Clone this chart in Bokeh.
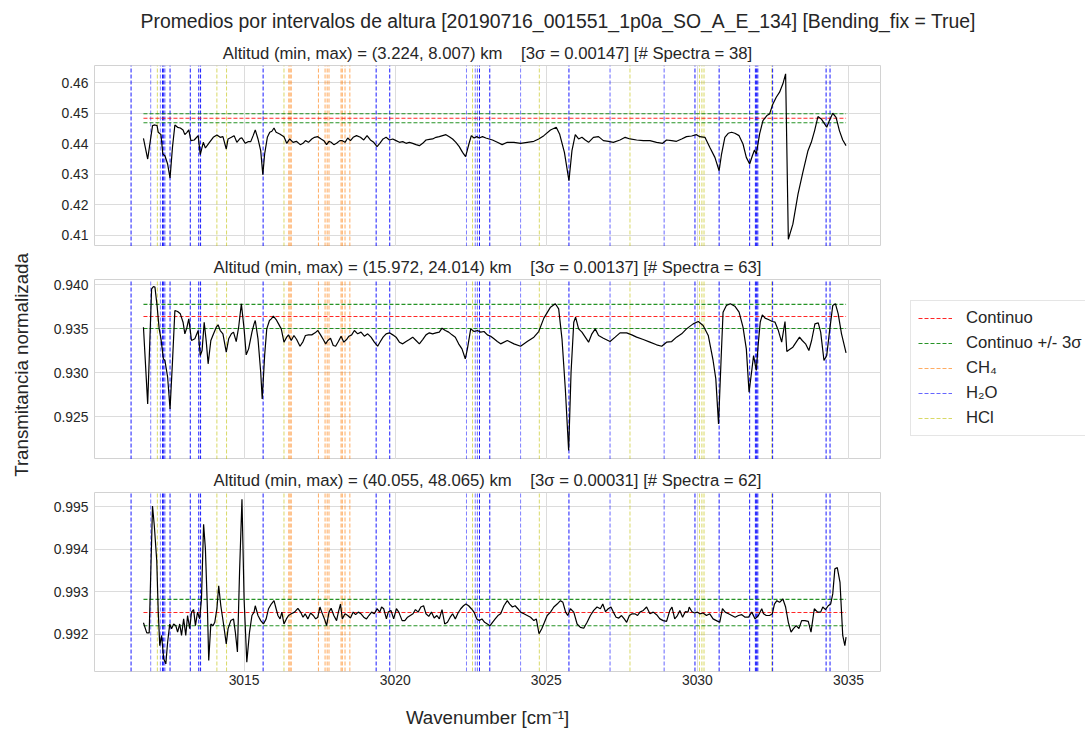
from bokeh.plotting import figure
from bokeh.models import (FixedTicker, Title, Legend, LegendItem,
                          PrintfTickFormatter, Range1d, ColumnDataSource)
from bokeh.layouts import column, row
from bokeh.embed import file_html
from bokeh.resources import INLINE

FONT = "Liberation Sans"
INK = "#262626"
SP4 = "\u00a0\u00a0\u00a0\u00a0"

main_title = "Promedios por intervalos de altura [20190716_001551_1p0a_SO_A_E_134] [Bending_fix = True]"
subtitles = [
    "Altitud (min, max) = (3.224, 8.007) km" + SP4 + "[3\u03c3 = 0.00147] [# Spectra = 38]",
    "Altitud (min, max) = (15.972, 24.014) km" + SP4 + "[3\u03c3 = 0.00137] [# Spectra = 63]",
    "Altitud (min, max) = (40.055, 48.065) km" + SP4 + "[3\u03c3 = 0.00031] [# Spectra = 62]",
]
x_label = "Wavenumber [cm\u207b\u00b9]"
y_label = "Transmitancia normalizada"
legend_labels = ["Continuo", "Continuo +/- 3\u03c3", "CH\u2084", "H\u2082O", "HCl"]

x_ticks = [3015, 3020, 3025, 3030, 3035]
x_limits = (3010.05, 3036.06)
y_ticks = [
    [0.41, 0.42, 0.43, 0.44, 0.45, 0.46],
    [0.925, 0.930, 0.935, 0.940],
    [0.992, 0.993, 0.994, 0.995],
]
y_formats = ["%.2f", "%.3f", "%.3f"]
y_limits = [(0.4063, 0.4657), (0.92016, 0.94061), (0.99112, 0.99534)]

continuo = [0.44838, 0.93641, 0.99251]
tres_sigma = [0.00147, 0.00137, 0.00031]

# spectral line positions (cm-1)
ch4_lines = [3016.48, 3016.52, 3016.56, 3017.46, 3017.68, 3017.75, 3017.81,
             3018.21, 3018.25, 3018.34, 3018.50]
hcl_lines = [3012.13, 3014.10, 3014.42, 3016.32, 3022.56, 3024.77, 3027.77,
             3030.07, 3030.15, 3030.22, 3032.46]
h2o_lines = [3011.26, 3011.91, 3012.23, 3012.30, 3012.34, 3012.38, 3012.55,
             3013.22, 3013.50, 3013.56, 3015.63, 3019.37, 3019.82, 3022.36,
             3022.65, 3022.72, 3022.79, 3023.13, 3024.15, 3025.75, 3027.11,
             3028.90, 3029.92, 3030.72, 3031.73, 3031.92, 3031.96, 3032.00,
             3032.49, 3034.26, 3034.39]
h2o_strength = [0.9, 0.5, 0.5, 0.9, 0.9, 0.6, 0.9,
                0.9, 0.9, 0.9, 0.9, 0.9, 0.9, 0.5,
                0.5, 0.6, 0.9, 0.9, 0.5, 0.9, 0.6,
                0.6, 0.9, 0.9, 0.9, 0.9, 0.9, 0.9,
                0.9, 0.9, 0.9]

# averaged spectra (wavenumber, normalised transmittance)
spec_1 = [
    (3011.67, 0.44181), (3011.81, 0.43501), (3011.97, 0.44597), (3012.05, 0.44619),
    (3012.12, 0.44597), (3012.16, 0.44378), (3012.25, 0.44301), (3012.31, 0.43665),
    (3012.38, 0.43610), (3012.47, 0.43336), (3012.55, 0.42876), (3012.63, 0.43884),
    (3012.71, 0.44619), (3012.80, 0.44542), (3012.89, 0.44520), (3012.98, 0.44455),
    (3013.04, 0.44301), (3013.11, 0.44378), (3013.17, 0.44455), (3013.24, 0.44104),
    (3013.35, 0.44126), (3013.48, 0.44268), (3013.55, 0.43643), (3013.65, 0.44049),
    (3013.72, 0.43863), (3013.83, 0.44016), (3013.98, 0.44213), (3014.10, 0.44290),
    (3014.21, 0.44213), (3014.30, 0.44235), (3014.41, 0.43830), (3014.47, 0.44159),
    (3014.58, 0.44213), (3014.67, 0.44268), (3014.76, 0.44049), (3014.87, 0.44181),
    (3014.93, 0.44192), (3015.04, 0.44016), (3015.13, 0.44071), (3015.22, 0.44071),
    (3015.30, 0.44268), (3015.37, 0.44455), (3015.46, 0.44159), (3015.55, 0.43775),
    (3015.62, 0.42985), (3015.68, 0.43665), (3015.77, 0.44213), (3015.85, 0.44378),
    (3015.92, 0.44411), (3015.99, 0.44520), (3016.06, 0.44378), (3016.18, 0.44323),
    (3016.32, 0.44235), (3016.41, 0.44016), (3016.51, 0.44159), (3016.62, 0.44049),
    (3016.73, 0.44082), (3016.86, 0.43972), (3016.95, 0.44016), (3017.03, 0.44104),
    (3017.13, 0.44049), (3017.24, 0.44159), (3017.33, 0.44213), (3017.44, 0.44235),
    (3017.55, 0.44159), (3017.64, 0.44104), (3017.73, 0.43972), (3017.81, 0.44082),
    (3017.88, 0.44049), (3017.97, 0.43972), (3018.06, 0.44016), (3018.17, 0.44104),
    (3018.25, 0.44104), (3018.34, 0.44049), (3018.43, 0.44192), (3018.52, 0.44104),
    (3018.61, 0.44213), (3018.72, 0.44268), (3018.85, 0.44213), (3018.96, 0.44126),
    (3019.07, 0.44268), (3019.18, 0.44126), (3019.29, 0.44049), (3019.40, 0.43906),
    (3019.49, 0.44016), (3019.60, 0.44159), (3019.70, 0.44213), (3019.81, 0.44126),
    (3019.92, 0.44159), (3020.03, 0.44104), (3020.14, 0.44049), (3020.25, 0.44071),
    (3020.36, 0.44016), (3020.47, 0.44049), (3020.58, 0.44016), (3020.69, 0.43972),
    (3020.80, 0.43939), (3020.91, 0.44016), (3021.02, 0.44126), (3021.13, 0.44148),
    (3021.24, 0.44159), (3021.35, 0.44213), (3021.46, 0.44235), (3021.57, 0.44268),
    (3021.68, 0.44301), (3021.79, 0.44235), (3021.90, 0.44159), (3022.01, 0.44049),
    (3022.12, 0.43906), (3022.23, 0.43720), (3022.33, 0.43577), (3022.44, 0.43994),
    (3022.52, 0.44268), (3022.61, 0.44192), (3022.70, 0.44235), (3022.78, 0.44192),
    (3022.89, 0.44235), (3023.00, 0.44192), (3023.11, 0.44159), (3023.22, 0.44126),
    (3023.38, 0.44049), (3023.54, 0.43972), (3023.71, 0.44049), (3023.93, 0.44049),
    (3024.15, 0.44016), (3024.37, 0.44049), (3024.59, 0.44082), (3024.75, 0.44159),
    (3024.92, 0.44268), (3025.14, 0.44455), (3025.33, 0.44542), (3025.44, 0.44323),
    (3025.60, 0.43720), (3025.75, 0.42788), (3025.85, 0.43775), (3025.96, 0.44301),
    (3026.07, 0.44159), (3026.18, 0.44213), (3026.29, 0.44126), (3026.40, 0.44049),
    (3026.56, 0.44213), (3026.73, 0.44235), (3026.89, 0.44104), (3027.06, 0.44082),
    (3027.22, 0.44049), (3027.44, 0.44126), (3027.61, 0.44213), (3027.77, 0.44159),
    (3027.99, 0.44126), (3028.21, 0.44104), (3028.43, 0.44104), (3028.65, 0.44049),
    (3028.85, 0.44016), (3028.98, 0.44126), (3029.15, 0.44104), (3029.31, 0.44082),
    (3029.48, 0.44159), (3029.64, 0.44235), (3029.81, 0.44257), (3029.97, 0.44301),
    (3030.08, 0.44235), (3030.25, 0.44213), (3030.41, 0.43884), (3030.58, 0.43555),
    (3030.72, 0.43117), (3030.80, 0.43665), (3030.91, 0.44213), (3031.02, 0.44345),
    (3031.13, 0.44378), (3031.24, 0.44345), (3031.38, 0.44268), (3031.51, 0.43994),
    (3031.62, 0.43555), (3031.73, 0.43336), (3031.82, 0.43610), (3031.89, 0.43797),
    (3031.95, 0.43665), (3032.06, 0.44323), (3032.17, 0.44762), (3032.30, 0.44926),
    (3032.39, 0.44981), (3032.50, 0.45310), (3032.61, 0.45529), (3032.72, 0.45694),
    (3032.83, 0.45968), (3032.92, 0.46297), (3033.01, 0.40869), (3033.16, 0.41362),
    (3033.33, 0.42349), (3033.49, 0.43062), (3033.66, 0.43775), (3033.77, 0.44049),
    (3033.88, 0.44433), (3033.99, 0.44893), (3034.10, 0.44817), (3034.21, 0.44652),
    (3034.28, 0.44542), (3034.37, 0.44762), (3034.48, 0.45003), (3034.59, 0.44871),
    (3034.70, 0.44433), (3034.81, 0.44126), (3034.92, 0.43939),
]

spec_2 = [
    (3011.67, 0.93519), (3011.81, 0.92648), (3011.94, 0.93955), (3012.00, 0.93981),
    (3012.05, 0.93974), (3012.12, 0.93766), (3012.19, 0.93500), (3012.25, 0.93387),
    (3012.33, 0.93160), (3012.38, 0.93141), (3012.47, 0.92951), (3012.55, 0.92591),
    (3012.63, 0.93122), (3012.71, 0.93709), (3012.80, 0.93697), (3012.89, 0.93671),
    (3012.98, 0.93576), (3013.04, 0.93444), (3013.11, 0.93519), (3013.17, 0.93614),
    (3013.26, 0.93368), (3013.37, 0.93387), (3013.48, 0.93481), (3013.55, 0.93197),
    (3013.61, 0.93254), (3013.68, 0.93576), (3013.75, 0.93349), (3013.81, 0.93103),
    (3013.90, 0.93368), (3013.99, 0.93444), (3014.08, 0.93519), (3014.14, 0.93546),
    (3014.21, 0.93481), (3014.30, 0.93444), (3014.41, 0.93235), (3014.49, 0.93387),
    (3014.58, 0.93444), (3014.65, 0.93463), (3014.74, 0.93356), (3014.82, 0.93519),
    (3014.91, 0.93785), (3015.00, 0.93500), (3015.07, 0.93205), (3015.15, 0.93273),
    (3015.26, 0.93463), (3015.33, 0.93557), (3015.37, 0.93595), (3015.46, 0.93387),
    (3015.55, 0.93008), (3015.60, 0.92705), (3015.68, 0.93197), (3015.75, 0.93500),
    (3015.84, 0.93595), (3015.90, 0.93614), (3015.97, 0.93644), (3016.06, 0.93606),
    (3016.14, 0.93557), (3016.23, 0.93500), (3016.32, 0.93349), (3016.41, 0.93406),
    (3016.47, 0.93432), (3016.56, 0.93368), (3016.65, 0.93425), (3016.74, 0.93379),
    (3016.85, 0.93303), (3016.95, 0.93356), (3017.03, 0.93425), (3017.13, 0.93432),
    (3017.24, 0.93432), (3017.35, 0.93455), (3017.44, 0.93481), (3017.53, 0.93432),
    (3017.62, 0.93379), (3017.70, 0.93330), (3017.77, 0.93368), (3017.86, 0.93394),
    (3017.95, 0.93311), (3018.03, 0.93303), (3018.12, 0.93356), (3018.21, 0.93417),
    (3018.30, 0.93349), (3018.39, 0.93379), (3018.47, 0.93417), (3018.56, 0.93432),
    (3018.65, 0.93481), (3018.76, 0.93444), (3018.87, 0.93463), (3018.98, 0.93417),
    (3019.09, 0.93444), (3019.20, 0.93406), (3019.31, 0.93349), (3019.42, 0.93303),
    (3019.51, 0.93356), (3019.60, 0.93406), (3019.70, 0.93444), (3019.81, 0.93455),
    (3019.92, 0.93432), (3020.03, 0.93406), (3020.14, 0.93349), (3020.25, 0.93330),
    (3020.36, 0.93356), (3020.47, 0.93379), (3020.58, 0.93406), (3020.69, 0.93368),
    (3020.80, 0.93330), (3020.91, 0.93379), (3021.02, 0.93432), (3021.13, 0.93455),
    (3021.24, 0.93444), (3021.35, 0.93455), (3021.46, 0.93463), (3021.55, 0.93508),
    (3021.66, 0.93481), (3021.77, 0.93463), (3021.88, 0.93432), (3021.99, 0.93406),
    (3022.10, 0.93330), (3022.21, 0.93273), (3022.32, 0.93160), (3022.39, 0.93273),
    (3022.50, 0.93500), (3022.61, 0.93470), (3022.72, 0.93481), (3022.83, 0.93463),
    (3022.94, 0.93470), (3023.05, 0.93432), (3023.16, 0.93417), (3023.27, 0.93387),
    (3023.38, 0.93356), (3023.49, 0.93330), (3023.71, 0.93368), (3023.93, 0.93330),
    (3024.15, 0.93303), (3024.37, 0.93356), (3024.59, 0.93406), (3024.75, 0.93470),
    (3024.92, 0.93622), (3025.14, 0.93747), (3025.30, 0.93785), (3025.41, 0.93728),
    (3025.52, 0.93387), (3025.63, 0.92819), (3025.74, 0.92118), (3025.82, 0.93008),
    (3025.91, 0.93576), (3025.97, 0.93633), (3026.07, 0.93500), (3026.18, 0.93463),
    (3026.29, 0.93406), (3026.40, 0.93349), (3026.51, 0.93444), (3026.62, 0.93500),
    (3026.73, 0.93425), (3026.89, 0.93394), (3027.11, 0.93356), (3027.28, 0.93406),
    (3027.44, 0.93455), (3027.66, 0.93455), (3027.83, 0.93432), (3027.99, 0.93406),
    (3028.21, 0.93379), (3028.43, 0.93349), (3028.65, 0.93319), (3028.82, 0.93303),
    (3028.98, 0.93349), (3029.15, 0.93356), (3029.31, 0.93406), (3029.48, 0.93444),
    (3029.64, 0.93500), (3029.86, 0.93557), (3030.03, 0.93584), (3030.19, 0.93538),
    (3030.36, 0.93425), (3030.52, 0.93141), (3030.61, 0.92932), (3030.70, 0.92421),
    (3030.79, 0.93197), (3030.85, 0.93690), (3030.96, 0.93766), (3031.09, 0.93785),
    (3031.24, 0.93758), (3031.38, 0.93690), (3031.51, 0.93519), (3031.62, 0.93273),
    (3031.71, 0.92781), (3031.80, 0.93027), (3031.86, 0.93197), (3031.95, 0.93027),
    (3032.01, 0.93311), (3032.08, 0.93576), (3032.15, 0.93660), (3032.24, 0.93622),
    (3032.35, 0.93606), (3032.48, 0.93584), (3032.57, 0.93576), (3032.68, 0.93481),
    (3032.79, 0.93349), (3032.90, 0.93584), (3032.96, 0.93243), (3033.05, 0.93266),
    (3033.16, 0.93292), (3033.27, 0.93349), (3033.38, 0.93406), (3033.47, 0.93368),
    (3033.58, 0.93330), (3033.69, 0.93254), (3033.78, 0.93368), (3033.89, 0.93557),
    (3034.00, 0.93569), (3034.08, 0.93463), (3034.19, 0.93141), (3034.28, 0.93197),
    (3034.37, 0.93463), (3034.48, 0.93766), (3034.57, 0.93785), (3034.66, 0.93671),
    (3034.77, 0.93444), (3034.92, 0.93228),
]

spec_3 = [
    (3011.67, 0.99227), (3011.78, 0.99203), (3011.86, 0.99203), (3011.97, 0.99502),
    (3012.03, 0.99455), (3012.11, 0.99373), (3012.16, 0.99252), (3012.21, 0.99173),
    (3012.27, 0.99197), (3012.34, 0.99142), (3012.41, 0.99130), (3012.47, 0.99181),
    (3012.54, 0.99224), (3012.60, 0.99213), (3012.67, 0.99224), (3012.74, 0.99220),
    (3012.80, 0.99205), (3012.87, 0.99224), (3012.93, 0.99197), (3013.00, 0.99236),
    (3013.07, 0.99197), (3013.13, 0.99244), (3013.20, 0.99213), (3013.26, 0.99252),
    (3013.33, 0.99258), (3013.39, 0.99220), (3013.46, 0.99252), (3013.53, 0.99236),
    (3013.59, 0.99283), (3013.66, 0.99459), (3013.72, 0.99401), (3013.79, 0.99252),
    (3013.83, 0.99138), (3013.90, 0.99224), (3013.97, 0.99220), (3014.03, 0.99228),
    (3014.10, 0.99260), (3014.16, 0.99314), (3014.23, 0.99267), (3014.32, 0.99224),
    (3014.41, 0.99177), (3014.47, 0.99213), (3014.56, 0.99232), (3014.65, 0.99236),
    (3014.71, 0.99205), (3014.78, 0.99158), (3014.85, 0.99346), (3014.93, 0.99518),
    (3015.00, 0.99283), (3015.09, 0.99134), (3015.18, 0.99205), (3015.26, 0.99244),
    (3015.33, 0.99252), (3015.37, 0.99267), (3015.46, 0.99244), (3015.55, 0.99232),
    (3015.64, 0.99224), (3015.73, 0.99236), (3015.81, 0.99260), (3015.90, 0.99271),
    (3015.99, 0.99279), (3016.06, 0.99260), (3016.12, 0.99244), (3016.19, 0.99236),
    (3016.25, 0.99252), (3016.32, 0.99224), (3016.40, 0.99236), (3016.47, 0.99244),
    (3016.56, 0.99248), (3016.67, 0.99252), (3016.78, 0.99261), (3016.87, 0.99252),
    (3016.95, 0.99240), (3017.02, 0.99248), (3017.11, 0.99236), (3017.20, 0.99250),
    (3017.29, 0.99244), (3017.37, 0.99236), (3017.44, 0.99240), (3017.51, 0.99264),
    (3017.57, 0.99252), (3017.66, 0.99236), (3017.73, 0.99220), (3017.81, 0.99252),
    (3017.88, 0.99261), (3017.97, 0.99244), (3018.06, 0.99232), (3018.12, 0.99252),
    (3018.19, 0.99271), (3018.25, 0.99236), (3018.34, 0.99248), (3018.43, 0.99244),
    (3018.52, 0.99238), (3018.61, 0.99252), (3018.69, 0.99246), (3018.78, 0.99252),
    (3018.87, 0.99248), (3018.96, 0.99240), (3019.05, 0.99236), (3019.13, 0.99244),
    (3019.22, 0.99252), (3019.31, 0.99248), (3019.40, 0.99260), (3019.49, 0.99252),
    (3019.55, 0.99264), (3019.62, 0.99260), (3019.71, 0.99236), (3019.77, 0.99252),
    (3019.86, 0.99256), (3019.95, 0.99236), (3020.04, 0.99260), (3020.12, 0.99252),
    (3020.23, 0.99232), (3020.32, 0.99232), (3020.41, 0.99240), (3020.50, 0.99244),
    (3020.59, 0.99248), (3020.67, 0.99258), (3020.76, 0.99252), (3020.85, 0.99264),
    (3020.94, 0.99267), (3021.02, 0.99248), (3021.11, 0.99242), (3021.20, 0.99252),
    (3021.29, 0.99238), (3021.38, 0.99244), (3021.46, 0.99236), (3021.55, 0.99258),
    (3021.64, 0.99224), (3021.73, 0.99228), (3021.82, 0.99240), (3021.90, 0.99248),
    (3021.99, 0.99236), (3022.08, 0.99250), (3022.17, 0.99260), (3022.26, 0.99267),
    (3022.34, 0.99271), (3022.43, 0.99267), (3022.52, 0.99260), (3022.61, 0.99252),
    (3022.70, 0.99236), (3022.78, 0.99232), (3022.87, 0.99236), (3022.96, 0.99228),
    (3023.05, 0.99224), (3023.14, 0.99220), (3023.22, 0.99228), (3023.31, 0.99236),
    (3023.40, 0.99244), (3023.49, 0.99248), (3023.60, 0.99267), (3023.71, 0.99279),
    (3023.79, 0.99271), (3023.88, 0.99264), (3023.97, 0.99267), (3024.06, 0.99260),
    (3024.15, 0.99252), (3024.26, 0.99248), (3024.37, 0.99244), (3024.48, 0.99240),
    (3024.59, 0.99232), (3024.67, 0.99236), (3024.76, 0.99201), (3024.85, 0.99213),
    (3024.94, 0.99228), (3025.03, 0.99244), (3025.14, 0.99252), (3025.25, 0.99264),
    (3025.36, 0.99271), (3025.47, 0.99279), (3025.55, 0.99275), (3025.64, 0.99252),
    (3025.71, 0.99244), (3025.80, 0.99260), (3025.91, 0.99252), (3026.02, 0.99224),
    (3026.13, 0.99216), (3026.24, 0.99214), (3026.35, 0.99228), (3026.46, 0.99244),
    (3026.57, 0.99256), (3026.68, 0.99264), (3026.79, 0.99260), (3026.87, 0.99271),
    (3026.96, 0.99253), (3027.05, 0.99260), (3027.14, 0.99264), (3027.22, 0.99252),
    (3027.31, 0.99240), (3027.40, 0.99238), (3027.49, 0.99244), (3027.58, 0.99236),
    (3027.66, 0.99228), (3027.75, 0.99244), (3027.84, 0.99248), (3027.93, 0.99248),
    (3028.02, 0.99244), (3028.10, 0.99252), (3028.21, 0.99256), (3028.32, 0.99264),
    (3028.43, 0.99248), (3028.54, 0.99252), (3028.65, 0.99246), (3028.76, 0.99236),
    (3028.87, 0.99232), (3028.98, 0.99230), (3029.09, 0.99256), (3029.16, 0.99264),
    (3029.25, 0.99236), (3029.34, 0.99244), (3029.42, 0.99256), (3029.51, 0.99240),
    (3029.60, 0.99253), (3029.69, 0.99252), (3029.73, 0.99264), (3029.82, 0.99253),
    (3029.91, 0.99250), (3030.00, 0.99252), (3030.08, 0.99248), (3030.19, 0.99250),
    (3030.30, 0.99244), (3030.41, 0.99248), (3030.52, 0.99236), (3030.63, 0.99232),
    (3030.74, 0.99228), (3030.83, 0.99260), (3030.92, 0.99252), (3031.03, 0.99248),
    (3031.14, 0.99244), (3031.25, 0.99240), (3031.36, 0.99244), (3031.47, 0.99246),
    (3031.58, 0.99240), (3031.69, 0.99240), (3031.80, 0.99252), (3031.91, 0.99236),
    (3032.02, 0.99244), (3032.13, 0.99260), (3032.19, 0.99248), (3032.28, 0.99244),
    (3032.39, 0.99244), (3032.48, 0.99248), (3032.55, 0.99271), (3032.63, 0.99279),
    (3032.72, 0.99275), (3032.83, 0.99283), (3032.92, 0.99264), (3033.01, 0.99228),
    (3033.10, 0.99205), (3033.18, 0.99213), (3033.27, 0.99220), (3033.36, 0.99213),
    (3033.45, 0.99232), (3033.56, 0.99232), (3033.67, 0.99230), (3033.76, 0.99205),
    (3033.87, 0.99260), (3033.98, 0.99252), (3034.08, 0.99252), (3034.15, 0.99264),
    (3034.24, 0.99258), (3034.33, 0.99267), (3034.41, 0.99271), (3034.48, 0.99295),
    (3034.55, 0.99354), (3034.63, 0.99357), (3034.72, 0.99322), (3034.81, 0.99197),
    (3034.88, 0.99173), (3034.92, 0.99193),
]

spectra = [spec_1, spec_2, spec_3]

BLUE = "#0000ff"
ORANGE = "#ff7f0e"
OLIVE = "#bfbf00"
RED = "#ff0000"
GREEN = "#008000"
DASH = "4 2"

frame_h = [181, 180, 179]
top_border = [63, 33, 33]
bottom_border = [0, 0, 60]

figs = []
for i in range(3):
    wn = [a for a, b in spectra[i]]
    tr = [b for a, b in spectra[i]]
    y0, y1 = y_limits[i]
    p = figure(frame_width=786, frame_height=frame_h[i],
               x_range=Range1d(*x_limits), y_range=Range1d(y0, y1),
               output_backend="svg", toolbar_location=None,
               min_border_left=58, min_border_top=top_border[i],
               min_border_bottom=bottom_border[i],
               min_border_right=205,
               background_fill_color="white", border_fill_color="white")
    p.outline_line_color = "#d2d2d2"
    p.outline_line_width = 1

    p.xgrid.ticker = FixedTicker(ticks=x_ticks)
    p.ygrid.ticker = FixedTicker(ticks=y_ticks[i])
    for g in (p.xgrid, p.ygrid):
        g.grid_line_color = "#dcdcdc"
        g.grid_line_width = 1

    ya = p.yaxis[0]
    ya.ticker = FixedTicker(ticks=y_ticks[i])
    ya.formatter = PrintfTickFormatter(format=y_formats[i])
    ya.axis_line_color = None
    ya.major_tick_line_color = None
    ya.minor_tick_line_color = None
    ya.major_tick_out = 0
    ya.major_tick_in = 0
    ya.minor_tick_out = 0
    ya.major_label_text_font = FONT
    ya.major_label_text_font_size = "13.9px"
    ya.major_label_text_color = INK
    ya.major_label_standoff = 6

    xa = p.xaxis[0]
    if i < 2:
        xa.visible = False
    else:
        xa.ticker = FixedTicker(ticks=x_ticks)
        xa.axis_line_color = None
        xa.major_tick_line_color = None
        xa.minor_tick_line_color = None
        xa.major_tick_out = 0
        xa.major_tick_in = 0
        xa.minor_tick_out = 0
        xa.major_label_text_font = FONT
        xa.major_label_text_font_size = "13.9px"
        xa.major_label_text_color = INK
        xa.major_label_standoff = 3
        xa.axis_label = x_label
        xa.axis_label_text_font = FONT
        xa.axis_label_text_font_size = "18.7px"
        xa.axis_label_text_font_style = "normal"
        xa.axis_label_text_color = INK
        xa.axis_label_standoff = 19

    p.add_layout(Title(text=subtitles[i], align="center", text_font=FONT,
                       text_font_size="16.7px", text_font_style="normal",
                       text_color=INK, standoff=6), "above")
    if i == 0:
        p.add_layout(Title(text=main_title, align="left", offset=46,
                           text_font=FONT, text_font_size="19.4px",
                           text_font_style="normal", text_color=INK,
                           standoff=14), "above")

    # species lines spanning the full panel height
    r_ch4 = p.segment(x0=ch4_lines, x1=ch4_lines,
                      y0=[y0] * len(ch4_lines), y1=[y1] * len(ch4_lines),
                      line_color=ORANGE, line_dash=DASH, line_width=1, line_alpha=0.65)
    r_hcl = p.segment(x0=hcl_lines, x1=hcl_lines,
                      y0=[y0] * len(hcl_lines), y1=[y1] * len(hcl_lines),
                      line_color=OLIVE, line_dash=DASH, line_width=1, line_alpha=0.6)
    h2o_src = ColumnDataSource(dict(x=h2o_lines, a=h2o_strength,
                                    y0=[y0] * len(h2o_lines), y1=[y1] * len(h2o_lines)))
    r_h2o = p.segment(x0="x", x1="x", y0="y0", y1="y1", source=h2o_src,
                      line_color=BLUE, line_dash=DASH, line_width=1, line_alpha="a")

    c, s = continuo[i], tres_sigma[i]
    x_ext = [wn[0], wn[-1]]
    r_red = p.line(x_ext, [c, c], line_color=RED, line_dash=DASH, line_width=1.1, line_alpha=0.85)
    r_grn = p.line(x_ext, [c + s, c + s], line_color=GREEN, line_dash=DASH, line_width=1.1, line_alpha=0.85)
    p.line(x_ext, [c - s, c - s], line_color=GREEN, line_dash=DASH, line_width=1.1, line_alpha=0.85)

    p.line(wn, tr, line_color="black", line_width=1.2)

    if i == 1:
        legend = Legend(items=[
            LegendItem(label=legend_labels[0], renderers=[r_red]),
            LegendItem(label=legend_labels[1], renderers=[r_grn]),
            LegendItem(label=legend_labels[2], renderers=[r_ch4], index=0),
            LegendItem(label=legend_labels[3], renderers=[r_h2o], index=5),
            LegendItem(label=legend_labels[4], renderers=[r_hcl], index=0),
        ], location=(30, 23))
        legend.label_text_font = FONT
        legend.label_text_font_size = "16.7px"
        legend.label_text_color = INK
        legend.glyph_width = 34
        legend.glyph_height = 20
        legend.label_height = 20
        legend.label_standoff = 14
        legend.spacing = 5
        legend.padding = 7
        legend.margin = 0
        legend.border_line_color = "#cccccc"
        legend.border_line_width = 1
        legend.background_fill_color = "white"
        legend.background_fill_alpha = 1.0
        p.add_layout(legend, "right")

    figs.append(p)

# shared y label
ylab_fig = figure(frame_width=4, frame_height=729, min_border_left=32,
                  min_border_right=0, min_border_top=0, min_border_bottom=0,
                  x_range=Range1d(0, 1), y_range=Range1d(0, 1),
                  x_axis_location=None, y_axis_location=None,
                  output_backend="svg", toolbar_location=None,
                  background_fill_color="white", border_fill_color="white")
ylab_fig.outline_line_color = None
ylab_fig.grid.visible = False
ylab_fig.add_layout(Title(text=y_label, align="center", text_font=FONT,
                          text_font_size="18.7px", text_font_style="normal",
                          text_color=INK, standoff=2), "left")

layout = row(ylab_fig, column(*figs, spacing=0), spacing=0)
open("out.html", "w").write(file_html(layout, INLINE))
